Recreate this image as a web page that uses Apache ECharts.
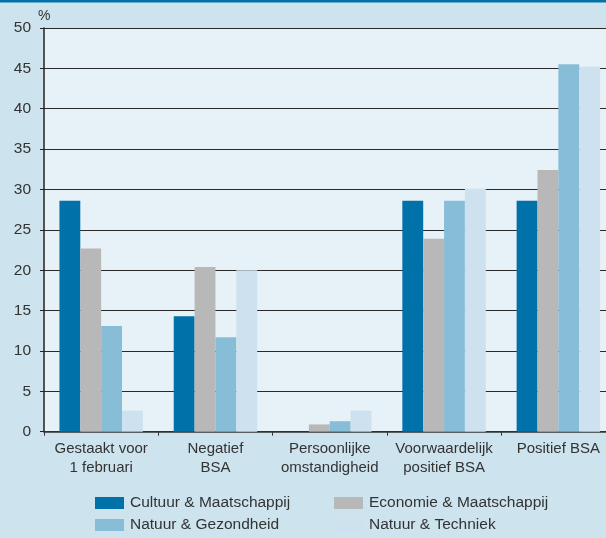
<!DOCTYPE html>
<html><head><meta charset="utf-8">
<script src="https://cdn.jsdelivr.net/npm/echarts@6/dist/echarts.min.js"></script>
<style>html,body{margin:0;padding:0;background:#cde3ee;overflow:hidden;}#c{width:620px;height:538px;}</style>
</head><body><div id="c"></div>
<script>
const categories = ['Gestaakt voor\n1 februari', 'Negatief\nBSA', 'Persoonlijke\nomstandigheid', 'Voorwaardelijk\npositief BSA', 'Positief BSA'];
const seriesNames = ['Cultuur & Maatschappij', 'Economie & Maatschappij', 'Natuur & Gezondheid', 'Natuur & Techniek'];
const cultuur = [28.6, 14.3, 0, 28.6, 28.6];
const economie = [22.7, 20.4, 0.9, 23.9, 32.4];
const gezondheid = [13.1, 11.7, 1.3, 28.6, 45.5];
const techniek = [2.6, 20.0, 2.6, 30.1, 45.2];
const yTicks = [0, 5, 10, 15, 20, 25, 30, 35, 40, 45, 50];
const colors = ['#0072a9', '#b8b8b9', '#88bdd8', '#cde2ee'];

const chart = echarts.init(document.getElementById('c'), null, {renderer: 'canvas'});
const font = 'Liberation Sans, Arial, sans-serif';
const values = [cultuur, economie, gezondheid, techniek];
const legendPos = [[95, 495], [334, 495], [95, 517], [334, 517]];
chart.setOption({
  backgroundColor: '#cde3ee',
  animation: false,
  textStyle: {fontFamily: font},
  graphic: [{type: 'rect', left: 0, top: 0, shape: {width: 620, height: 2.5}, style: {fill: '#0072a9'}}],
  grid: {left: 44, top: 28, width: 571.5, height: 403.7, backgroundColor: '#e6f1f8', show: true, borderWidth: 0},
  legend: seriesNames.map((n, i) => ({
    left: legendPos[i][0], top: legendPos[i][1], padding: 0, itemWidth: 29, itemHeight: 12,
    data: [n], icon: 'rect', selectedMode: false,
    textStyle: {fontSize: 15.5, color: '#333', fontFamily: font, padding: [0, 0, 0, 1]}
  })),
  xAxis: {
    type: 'category', data: categories,
    axisLine: {lineStyle: {color: '#333', width: 1.5}},
    axisTick: {show: true, length: 4, lineStyle: {color: '#333'}},
    axisLabel: {fontSize: 15, color: '#333', lineHeight: 19, margin: 8, interval: 0, fontFamily: font}
  },
  yAxis: {
    type: 'value', min: 0, max: 50, interval: 5,
    name: '%', nameLocation: 'end', nameGap: 5,
    nameTextStyle: {fontSize: 14, color: '#333', align: 'left', padding: [0, 0, 0, -6]},
    axisLine: {show: true, lineStyle: {color: '#222', width: 1.5}},
    axisTick: {show: true, length: 4, lineStyle: {color: '#222'}},
    axisLabel: {fontSize: 15.5, color: '#333', margin: 13, fontFamily: font,
      formatter: v => yTicks.includes(v) ? String(v) : ''},
    splitLine: {lineStyle: {color: '#2a2a2a', width: 1.2}}
  },
  series: values.map((d, i) => ({
    name: seriesNames[i], type: 'bar', data: d, barGap: '0%', barCategoryGap: '27%',
    itemStyle: {color: colors[i]}
  }))
});
</script></body></html>
